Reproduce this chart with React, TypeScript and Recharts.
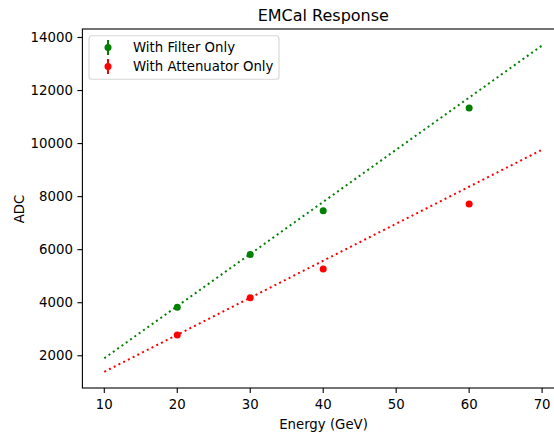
import React from "react";
import { ComposedChart, XAxis, YAxis, Line, Scatter } from "recharts";

const energies = [20, 30, 40, 60];
const filterAdc = [3828, 5815, 7466, 11345];
const attenAdc = [2782, 4191, 5275, 7719];

const fitEnergies = [10, 70];
const filterFit = [1905, 13700];
const attenFit = [1396, 9770];

const xTicks = [10, 20, 30, 40, 50, 60, 70];
const yTicks = [2000, 4000, 6000, 8000, 10000, 12000, 14000];

const legendLabels = ["With Filter Only", "With Attenuator Only"];
const GREEN = "#008000";
const RED = "#ff0000";
const FONT = "'DejaVu Sans', sans-serif";

const filterPts = energies.map((x, i) => ({ x, y: filterAdc[i] }));
const attenPts = energies.map((x, i) => ({ x, y: attenAdc[i] }));
const filterLine = fitEnergies.map((x, i) => ({ x, y: filterFit[i] }));
const attenLine = fitEnergies.map((x, i) => ({ x, y: attenFit[i] }));

const dot = (color: string) => (props: any) => (
  <circle cx={props.cx} cy={props.cy} r={3.5} fill={color} stroke="none" />
);

const tickStyle = { fontFamily: FONT, fontSize: 13.3, fill: "#000" };

export default function App() {
  return (
    <div
      style={{
        position: "absolute",
        left: 0,
        top: 0,
        width: 554,
        height: 433,
        overflow: "hidden",
        background: "#fff",
      }}
    >
      <ComposedChart
        width={570}
        height={433}
        margin={{ top: 29, right: 6, bottom: 0, left: 0 }}
      >
        <XAxis
          type="number"
          dataKey="x"
          domain={[7, 73]}
          ticks={xTicks}
          allowDataOverflow
          height={45}
          axisLine={false}
          tickSize={5}
          tickMargin={6.5}
          tickLine={{ stroke: "#000", strokeWidth: 1.1 }}
          tick={tickStyle}
        />
        <YAxis
          type="number"
          dataKey="y"
          domain={[785, 14320]}
          ticks={yTicks}
          allowDataOverflow
          width={82.4}
          axisLine={false}
          tickSize={5}
          tickMargin={4.5}
          tickLine={{ stroke: "#000", strokeWidth: 1.1 }}
          tick={tickStyle}
        />
        <Line
          data={filterLine}
          dataKey="y"
          type="linear"
          stroke={GREEN}
          strokeWidth={2}
          strokeDasharray="2 3.3"
          dot={false}
          activeDot={false}
          isAnimationActive={false}
        />
        <Line
          data={attenLine}
          dataKey="y"
          type="linear"
          stroke={RED}
          strokeWidth={2}
          strokeDasharray="2 3.3"
          dot={false}
          activeDot={false}
          isAnimationActive={false}
        />
        <Scatter data={filterPts} dataKey="y" shape={dot(GREEN)} isAnimationActive={false} />
        <Scatter data={attenPts} dataKey="y" shape={dot(RED)} isAnimationActive={false} />
      </ComposedChart>
      <svg
        width={554}
        height={433}
        style={{ position: "absolute", left: 0, top: 0, pointerEvents: "none" }}
      >
        <rect x={82.4} y={29} width={564 - 82.4} height={388 - 29} fill="none" stroke="#000" strokeWidth={1.1} />
        <text x={323.3} y={21} textAnchor="middle" fontFamily={FONT} fontSize={16} fill="#000">
          EMCal Response
        </text>
        <text x={323.5} y={428.5} textAnchor="middle" fontFamily={FONT} fontSize={13.3} fill="#000">
          Energy (GeV)
        </text>
        <text
          x={24}
          y={209}
          textAnchor="middle"
          fontFamily={FONT}
          fontSize={13.3}
          fill="#000"
          transform="rotate(-90 24 209)"
        >
          ADC
        </text>
        <rect x={89} y={35.7} width={190} height={43.5} rx={3} ry={3} fill="#fff" fillOpacity={0.8} stroke="#d6d6d6" strokeWidth={1.1} />
        {legendLabels.map((label, i) => {
          const cy = 47.5 + i * 19;
          const color = i === 0 ? GREEN : RED;
          return (
            <g key={label}>
              <line x1={108} x2={108} y1={cy - 7.5} y2={cy + 7.5} stroke={color} strokeWidth={2} />
              <circle cx={108} cy={cy} r={3.5} fill={color} />
              <text x={133} y={cy + 4.5} fontFamily={FONT} fontSize={13.3} fill="#000">
                {label}
              </text>
            </g>
          );
        })}
      </svg>
    </div>
  );
}
